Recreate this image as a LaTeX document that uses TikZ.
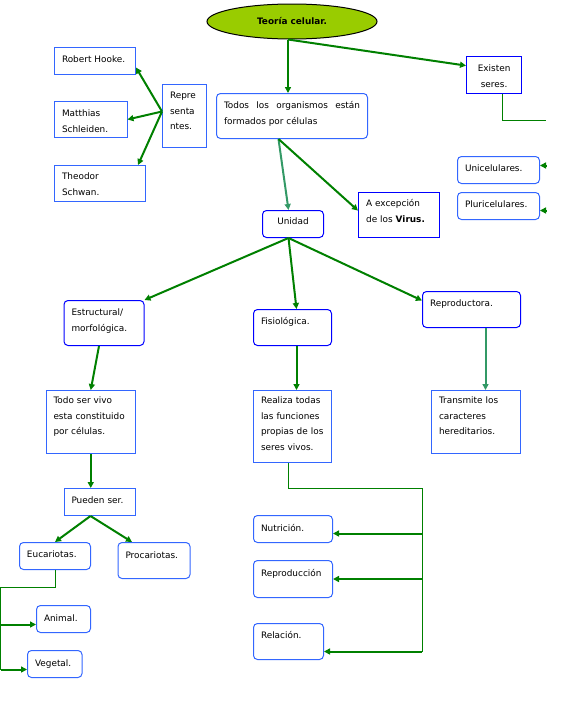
\documentclass[tikz,border=0pt]{standalone}
\usepackage{fontspec}
\setmainfont{DejaVu Sans}
\usetikzlibrary{arrows.meta, shapes.geometric, positioning}

\definecolor{linkgreen}{RGB}{0,128,0}
\definecolor{linkteal}{RGB}{51,153,102}
\definecolor{boxblue}{RGB}{51,102,255}
\definecolor{deepblue}{RGB}{0,0,255}
\definecolor{titlegreen}{RGB}{153,204,0}

\begin{document}
\begin{tikzpicture}[x=1pt, y=-1pt, >={Triangle[length=6pt,width=6pt]},
  box/.style={draw=boxblue, line width=1pt, anchor=north west, inner xsep=7.5pt, inner ysep=0pt,
    align=left, text height=15pt, font=\fontsize{8.9}{15.5}\selectfont},
  rbox/.style={box, rounded corners=4pt},
  link/.style={->, color=linkgreen, line width=2pt},
  tlink/.style={->, color=linkteal, line width=2pt},
  wire/.style={color=linkgreen, line width=1pt}]
\useasboundingbox (0,0) rectangle (570,720);

% title and first level
\node[ellipse, draw=black, line width=1pt, fill=titlegreen, minimum width=170pt, minimum height=35pt,
  font=\bfseries\fontsize{8.9}{10}\selectfont] (title) at (292,21.5) {Teoría celular.};
\node[rbox, text width=136pt, text depth=30pt, align=justify] (todos) at (216,93) {Todos los organismos están\linebreak formados por células};
\node[box, draw=deepblue, line width=1.2pt, text width=40pt, text depth=22pt, align=center] (existen) at (466,56) {Existen\\seres.};
\node[rbox, text width=67pt, text depth=12pt] (unicel) at (457,156) {Unicelulares.};
\node[rbox, text width=67pt, text depth=12pt] (pluricel) at (457,192) {Pluricelulares.};

% representantes
\node[box, text width=29pt, text height=14pt, text depth=49pt] (repre) at (162,84) {Repre\\senta\\ntes.};
\node[box, text width=66pt, text depth=12pt] (robert) at (54,47) {Robert Hooke.};
\node[box, text width=57.5pt, text depth=21pt] (matthias) at (54,101) {Matthias\\Schleiden.};
\node[box, text width=75.5pt, text height=14pt, text depth=22pt] (theodor) at (54,165) {Theodor\\Schwan.};

% unidad
\node[rbox, draw=deepblue, text width=46pt, text height=14pt, text depth=13pt, align=center] (unidad) at (262,210) {Unidad};
\node[box, draw=deepblue, line width=1.2pt, text width=66pt, text height=14pt, text depth=31pt] (excepcion) at (358,192) {A excepción\\de los \textbf{Virus.}};
\node[rbox, draw=deepblue, text width=65pt, text depth=30pt] (estructural) at (63.5,300) {Estructural/\\morfológica.};
\node[rbox, draw=deepblue, text width=63pt, text depth=21pt] (fisiologica) at (253,309) {Fisiológica.};
\node[rbox, draw=deepblue, text width=83pt, text depth=21pt] (reproductora) at (422,291) {Reproductora.};

% third level
\node[box, text width=74.5pt, text height=13pt, text depth=50pt] (todoser) at (45.5,390) {Todo ser vivo\\esta constituido\\por células.};
\node[box, text width=63pt, text height=13pt, text depth=59pt] (realiza) at (253,390) {Realiza todas\\las funciones\\propias de los\\seres vivos.};
\node[box, text width=74pt, text height=13pt, text depth=50pt] (transmite) at (431,390) {Transmite los\\caracteres\\hereditarios.};

% tipos de celulas
\node[box, text width=56pt, text depth=12pt] (pueden) at (63.5,488) {Pueden ser.};
\node[rbox, text width=56pt, text depth=12pt] (eucariotas) at (19,542) {Eucariotas.};
\node[rbox, text width=57pt, text height=16pt, text depth=20pt] (procariotas) at (117.5,542) {Procariotas.};
\node[rbox, text width=39pt, text height=16pt, text depth=11pt] (animal) at (36,605) {Animal.};
\node[rbox, text width=39.5pt, text height=16pt, text depth=11pt] (vegetal) at (27,650) {Vegetal.};

% funciones
\node[rbox, text width=64pt, text height=16pt, text depth=11pt] (nutricion) at (253,515) {Nutrición.};
\node[rbox, text width=64pt, text height=16pt, text depth=21pt] (reproduccion) at (253,560) {Reproducción};
\node[rbox, text width=55pt, text depth=21pt] (relacion) at (253,623) {Relación.};

% connectors
\draw[link] ([xshift=-4pt]title.south) -- ([xshift=-4pt]title.south |- todos.north);
\draw[link] ([xshift=-4pt]title.south) -- ([yshift=9.5pt]existen.west);

\draw[link] ([yshift=4.5pt]repre.west) -- ([yshift=-6.5pt]robert.east);
\draw[link] ([yshift=4.5pt]repre.west) -- (matthias.east);
\draw[link] ([yshift=4.5pt]repre.west) -- ([xshift=-7.5pt]theodor.north east);

\draw[tlink] ([xshift=-13.5pt]todos.south) -- ([xshift=-4.5pt]unidad.north);
\draw[link] ([xshift=-13.5pt]todos.south) -- ([yshift=4.5pt]excepcion.west);

\draw[link] ([xshift=-4.5pt]unidad.south) -- (estructural.north east);
\draw[link] ([xshift=-4.5pt]unidad.south) -- ([xshift=4pt]fisiologica.north);
\draw[link] ([xshift=-4.5pt]unidad.south) -- ([yshift=9pt]reproductora.west);

\draw[link] ([xshift=-5pt]estructural.south) -- (todoser.north);
\draw[link] ([xshift=4pt]fisiologica.south) -- ([xshift=4pt]fisiologica.south |- realiza.north);
\draw[tlink] ([xshift=14pt]reproductora.south) -- ([xshift=14pt]reproductora.south |- transmite.north);

\draw[link] (todoser.south) -- (todoser.south |- pueden.north);
\draw[link] ([xshift=-9pt]pueden.south) -- (eucariotas.north);
\draw[link] ([xshift=-9pt]pueden.south) -- ([xshift=-22pt]procariotas.north);

% eucariotas branch
\coordinate (euleft) at (0.5,587);
\coordinate (animalin) at ([yshift=-5.5pt]animal.west);
\coordinate (vegetalin) at ([yshift=-5.5pt]vegetal.west);
\draw[wire] (eucariotas.south) |- (euleft) -- (euleft |- vegetalin);
\draw[link] (euleft |- animalin) -- (animalin);
\draw[link] (euleft |- vegetalin) -- (vegetalin);

% funciones branch
\coordinate (funright) at (422,488);
\coordinate (nutin) at ([yshift=-4.5pt]nutricion.east);
\coordinate (repin) at (reproduccion.east);
\coordinate (relin) at ([yshift=-10pt]relacion.east);
\draw[wire] ([xshift=-4pt]realiza.south) |- (funright) -- (funright |- relin);
\draw[link] (funright |- nutin) -- (nutin);
\draw[link] (funright |- repin) -- (repin);
\draw[link] (funright |- relin) -- (relin);

% seres branch
\coordinate (seredge) at (546,120);
\coordinate (unin) at ([yshift=4.5pt]unicel.east);
\coordinate (pluin) at ([yshift=-4.5pt]pluricel.east);
\draw[wire] ([xshift=8.5pt]existen.south) |- (seredge);
\draw[link] (unin -| seredge) -- (unin);
\draw[link] (pluin -| seredge) -- (pluin);
\end{tikzpicture}
\end{document}
